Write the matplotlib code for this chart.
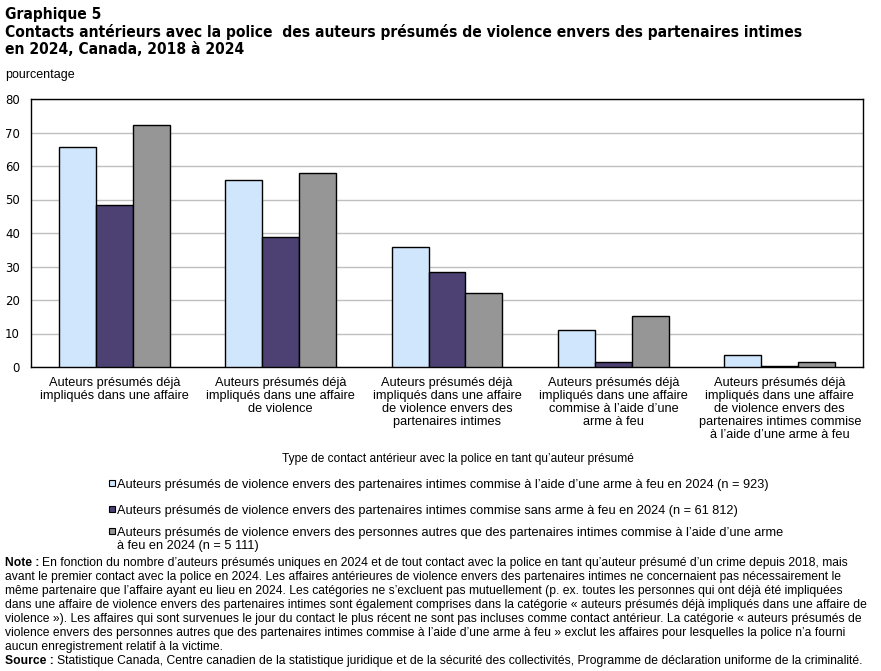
import matplotlib
matplotlib.use("Agg")
import matplotlib.pyplot as plt
from matplotlib.patches import Rectangle
import numpy as np

# Données (pourcentage)
categories = [
    "Auteurs présumés déjà\nimpliqués dans une affaire",
    "Auteurs présumés déjà\nimpliqués dans une affaire\nde violence",
    "Auteurs présumés déjà\nimpliqués dans une affaire\nde violence envers des\npartenaires intimes",
    "Auteurs présumés déjà\nimpliqués dans une affaire\ncommise à l’aide d’une\narme à feu",
    "Auteurs présumés déjà\nimpliqués dans une affaire\nde violence envers des\npartenaires intimes commise\nà l’aide d’une arme à feu",
]
series_labels = [
    "Auteurs présumés de violence envers des partenaires intimes commise à l’aide d’une arme à feu en 2024 (n = 923)",
    "Auteurs présumés de violence envers des partenaires intimes commise sans arme à feu en 2024 (n = 61 812)",
    "Auteurs présumés de violence envers des personnes autres que des partenaires intimes commise à l’aide d’une arme\nà feu en 2024 (n = 5 111)",
]
vpi_arme = [65.8, 55.8, 35.8, 11.0, 3.5]
vpi_sans_arme = [48.3, 38.7, 28.3, 1.4, 0.3]
autres_arme = [72.2, 57.9, 22.0, 15.1, 1.4]
colors = ["#cfe6fc", "#4d4173", "#969696"]
yticks = [0, 10, 20, 30, 40, 50, 60, 70, 80]

title_lines = [
    "Graphique 5",
    "Contacts antérieurs avec la police  des auteurs présumés de violence envers des partenaires intimes",
    "en 2024, Canada, 2018 à 2024",
]
note_lines = [
    "En fonction du nombre d’auteurs présumés uniques en 2024 et de tout contact avec la police en tant qu’auteur présumé d’un crime depuis 2018, mais",
    "avant le premier contact avec la police en 2024. Les affaires antérieures de violence envers des partenaires intimes ne concernaient pas nécessairement le",
    "même partenaire que l’affaire ayant eu lieu en 2024. Les catégories ne s’excluent pas mutuellement (p. ex. toutes les personnes qui ont déjà été impliquées",
    "dans une affaire de violence envers des partenaires intimes sont également comprises dans la catégorie « auteurs présumés déjà impliqués dans une affaire de",
    "violence »). Les affaires qui sont survenues le jour du contact le plus récent ne sont pas incluses comme contact antérieur. La catégorie « auteurs présumés de",
    "violence envers des personnes autres que des partenaires intimes commise à l’aide d’une arme à feu » exclut les affaires pour lesquelles la police n’a fourni",
    "aucun enregistrement relatif à la victime.",
]
source_text = "Statistique Canada, Centre canadien de la statistique juridique et de la sécurité des collectivités, Programme de déclaration uniforme de la criminalité."

W, H = 881, 671
fig = plt.figure(figsize=(W / 100, H / 100), dpi=100)
ax = fig.add_axes([31 / W, 1 - 367 / H, (863 - 31) / W, (367 - 99) / H])

x = np.arange(len(categories))
bw = 0.222
for i, (vals, col) in enumerate(zip([vpi_arme, vpi_sans_arme, autres_arme], colors)):
    ax.bar(x + (i - 1) * bw, vals, bw, color=col, edgecolor="black", linewidth=1,
           label=series_labels[i], zorder=3)

ax.set_xlim(-0.5, len(categories) - 0.5)
ax.set_ylim(0, 80)
ax.set_yticks(yticks)
ax.yaxis.grid(True, color="#bfbfbf", linewidth=1, zorder=0)
ax.tick_params(axis="y", length=0, pad=8, labelsize=8.5)
ax.tick_params(axis="x", length=0)
ax.set_xticks(x)
ax.set_xticklabels([])
for sp in ax.spines.values():
    sp.set_linewidth(1)
    sp.set_color("black")

font_txt = "Liberation Sans"
for xi, lab in zip(x, categories):
    ax.annotate(lab, xy=(xi, 0), xycoords="data", xytext=(0, -7.5), textcoords="offset points",
                ha="center", va="top", fontsize=9.2, family=font_txt, linespacing=1.09)

fig.text(458 / W, 1 - 459 / H, "Type de contact antérieur avec la police en tant qu’auteur présumé",
         ha="center", va="center", fontsize=8.6, family=font_txt)
fig.text(5 / W, 1 - 75 / H, "pourcentage", ha="left", va="center", fontsize=9, family=font_txt)

# titre
ty = [14, 32, 50]
for t, yy in zip(title_lines, ty):
    fig.text(5 / W, 1 - yy / H, t, ha="left", va="center", fontsize=11.2, fontweight="bold",
             family="DejaVu Sans", fontstretch="condensed")

# légende (dessinée à la main : carré sur la première ligne)
leg_rows = [483, 509, 531]
for lab, col, yy in zip(series_labels, colors, leg_rows):
    fig.patches.append(Rectangle((109 / W, 1 - (yy + 3) / H), 6 / W, 6 / H,
                                 transform=fig.transFigure, facecolor=col,
                                 edgecolor="black", linewidth=0.8))
    fig.text(117 / W, 1 - (yy - 4) / H, lab, ha="left", va="top", fontsize=9.2,
             family=font_txt, linespacing=1.12)

# note et source
fig.canvas.draw()
r = fig.canvas.get_renderer()
y0 = 563
dy = 14.0
fs_note = 8.7
t = fig.text(5 / W, 1 - y0 / H, "Note :", ha="left", va="center", fontsize=fs_note,
             fontweight="bold", family=font_txt)
bb = t.get_window_extent(renderer=r)
fig.text((bb.x1 + 3) / W, 1 - y0 / H, note_lines[0], ha="left", va="center", fontsize=fs_note, family=font_txt)
for k, line in enumerate(note_lines[1:], start=1):
    fig.text(5 / W, 1 - (y0 + k * dy) / H, line, ha="left", va="center", fontsize=fs_note, family=font_txt)
ys = y0 + len(note_lines) * dy
t2 = fig.text(5 / W, 1 - ys / H, "Source :", ha="left", va="center", fontsize=fs_note,
              fontweight="bold", family=font_txt)
bb2 = t2.get_window_extent(renderer=r)
fig.text((bb2.x1 + 3) / W, 1 - ys / H, source_text, ha="left", va="center", fontsize=fs_note, family=font_txt)

fig.savefig("out.png", dpi=100)
